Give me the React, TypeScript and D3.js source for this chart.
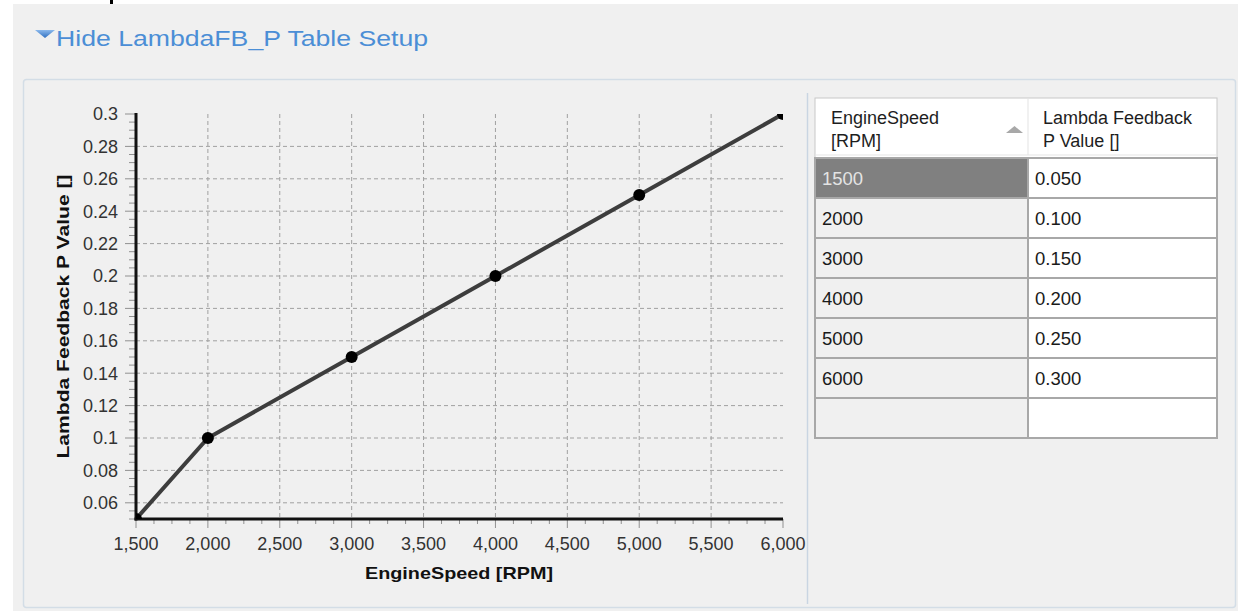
import React from "react";
import * as d3 from "d3";

const engineSpeed = [1500, 2000, 3000, 4000, 5000, 6000];
const pValue = [0.05, 0.1, 0.15, 0.2, 0.25, 0.3];
const pValueText = ["0.050", "0.100", "0.150", "0.200", "0.250", "0.300"];
const xTickValues = [1500, 2000, 2500, 3000, 3500, 4000, 4500, 5000, 5500, 6000];
const yTickValues = [0.06, 0.08, 0.1, 0.12, 0.14, 0.16, 0.18, 0.2, 0.22, 0.24, 0.26, 0.28, 0.3];
const xTitle = "EngineSpeed [RPM]";
const yTitle = "Lambda Feedback P Value []";
const heading = "Hide LambdaFB_P Table Setup";
const colHeaders = [["EngineSpeed", "[RPM]"], ["Lambda Feedback", "P Value []"]];

const FONT = "'Liberation Sans', Arial, sans-serif";

export default function App() {
  const x = d3.scaleLinear().domain([1500, 6000]).range([136, 783]);
  const y = d3.scaleLinear().domain([0.05, 0.3]).range([519, 114]);
  const minorX = d3.range(1500, 6000.1, 125).filter((v) => v % 500 !== 0);
  const minorY = d3.range(0, 51).map((i) => 0.05 + i * 0.005).filter((v) => v <= 0.3001 && Math.abs(Math.round(v * 50) - v * 50) > 1e-6);
  const pts = engineSpeed.map((s, i) => [s, pValue[i]] as [number, number]);
  const line = d3.line<[number, number]>().x((d) => x(d[0])).y((d) => y(d[1]));
  const fmtX = d3.format(",");
  const fmtY = (v: number) => String(+v.toFixed(2));

  const tLeft = 815, tMid = 1028, tRight = 1217, headTop = 98, rowTop = 158, rowH = 40;
  const nRows = engineSpeed.length + 1;

  return (
    <svg width={1238} height={611} style={{ position: "absolute", left: 0, top: 0 }} fontFamily={FONT}>
      <defs>
        <clipPath id="plotClip">
          <rect x={136} y={114} width={647} height={405} />
        </clipPath>
        <linearGradient id="triGrad" x1="0" y1="0" x2="0" y2="1">
          <stop offset="0" stopColor="#8ab8ec" />
          <stop offset="1" stopColor="#2f6fc0" />
        </linearGradient>
      </defs>
      <rect x={0} y={0} width={1238} height={611} fill="#ffffff" />
      <rect x={13} y={4} width={1225} height={607} fill="#f0f0f0" />
      <rect x={110} y={0} width={3} height={4} fill="#000" />

      {/* heading */}
      <path d="M35,30 L55,30 L45,38 Z" fill="url(#triGrad)" />
      <text x={56} y={46} fontSize={22.5} fill="#4b8ed6" textLength={372} lengthAdjust="spacingAndGlyphs">{heading}</text>

      {/* panel */}
      <rect x={23.5} y={79.5} width={1212} height={528} rx={3} fill="#f0f0f0" stroke="#d3dde6" strokeWidth={1.5} />
      <line x1={807.5} x2={807.5} y1={93} y2={604} stroke="#c9d5e2" strokeWidth={1.5} />

      {/* grid */}
      {xTickValues.filter((v) => v > 1500 && v < 6000).map((v) => (
        <line key={"gx" + v} x1={x(v)} x2={x(v)} y1={114} y2={519} stroke="#a0a0a0" strokeWidth={1} strokeDasharray="4,3" />
      ))}
      {yTickValues.filter((v) => v < 0.299).map((v) => (
        <line key={"gy" + v} x1={136} x2={783} y1={y(v)} y2={y(v)} stroke="#a0a0a0" strokeWidth={1} strokeDasharray="4,3" />
      ))}

      {/* ticks */}
      {yTickValues.map((v) => (
        <g key={"ty" + v}>
          <line x1={125} x2={136} y1={y(v)} y2={y(v)} stroke="#909090" strokeWidth={1} />
          <text x={118} y={y(v)} dy="0.35em" textAnchor="end" fontSize={18} fill="#333">{fmtY(v)}</text>
        </g>
      ))}
      {minorY.map((v, i) => (
        <line key={"my" + i} x1={129} x2={136} y1={y(v)} y2={y(v)} stroke="#909090" strokeWidth={1} />
      ))}
      {xTickValues.map((v) => (
        <g key={"tx" + v}>
          <line x1={x(v)} x2={x(v)} y1={519} y2={528} stroke="#909090" strokeWidth={1} />
          <text x={x(v)} y={550} textAnchor="middle" fontSize={18} fill="#333">{fmtX(v)}</text>
        </g>
      ))}
      {minorX.map((v) => (
        <line key={"mx" + v} x1={x(v)} x2={x(v)} y1={519} y2={524} stroke="#909090" strokeWidth={1} />
      ))}

      {/* axes */}
      <line x1={136} x2={136} y1={113} y2={520.5} stroke="#111" strokeWidth={3} />
      <line x1={134.5} x2={783} y1={519} y2={519} stroke="#111" strokeWidth={3} />

      {/* series */}
      <g clipPath="url(#plotClip)">
        <path d={line(pts) || ""} fill="none" stroke="#3d3d3d" strokeWidth={4} />
        {pts.map((d, i) => (
          <circle key={"c" + i} cx={x(d[0])} cy={y(d[1])} r={6} fill="#000" />
        ))}
      </g>

      {/* axis titles */}
      <text x={459} y={579} textAnchor="middle" fontSize={17} fontWeight="bold" fill="#111" textLength={188} lengthAdjust="spacingAndGlyphs">{xTitle}</text>
      <text transform="translate(69,316.5) rotate(-90)" textAnchor="middle" fontSize={17} fontWeight="bold" fill="#111" textLength={284} lengthAdjust="spacingAndGlyphs">{yTitle}</text>

      {/* table */}
      <rect x={tLeft} y={headTop} width={tRight - tLeft} height={rowTop - headTop} fill="#ffffff" stroke="#c8c8c8" strokeWidth={1} />
      <line x1={tMid} x2={tMid} y1={headTop} y2={rowTop - 3} stroke="#e3e3e3" strokeWidth={1} />
      <line x1={tLeft} x2={tRight} y1={rowTop - 3} y2={rowTop - 3} stroke="#e5e5e5" strokeWidth={1} />
      {colHeaders.map((lines, ci) => (
        <g key={"h" + ci}>
          {lines.map((t, li) => (
            <text key={li} x={ci === 0 ? 831 : 1043} y={124 + li * 23} fontSize={18} fill="#1e1e1e">{t}</text>
          ))}
        </g>
      ))}
      <path d="M1006,133 L1023,133 L1014.5,126 Z" fill="#a8a8a8" />

      {d3.range(nRows).map((r) => {
        const top = rowTop + r * rowH;
        const has = r < engineSpeed.length;
        const sel = r === 0;
        return (
          <g key={"r" + r}>
            <rect x={tLeft} y={top} width={tMid - tLeft} height={rowH} fill={sel ? "#808080" : "#f0f0f0"} />
            <rect x={tMid} y={top} width={tRight - tMid} height={rowH} fill="#ffffff" />
            {has && (
              <>
                <text x={822} y={top + 27} fontSize={18.5} fill={sel ? "#e4e4e4" : "#1a1a1a"}>{String(engineSpeed[r])}</text>
                <text x={1035} y={top + 27} fontSize={18.5} fill="#1a1a1a">{pValueText[r]}</text>
              </>
            )}
          </g>
        );
      })}
      {d3.range(nRows + 1).map((r) => (
        <line key={"hl" + r} x1={tLeft} x2={tRight} y1={rowTop + r * rowH} y2={rowTop + r * rowH} stroke="#a8a8a8" strokeWidth={2} />
      ))}
      {[tLeft, tMid, tRight].map((vx) => (
        <line key={"vl" + vx} x1={vx} x2={vx} y1={rowTop - 1} y2={rowTop + nRows * rowH + 1} stroke="#a8a8a8" strokeWidth={2} />
      ))}
    </svg>
  );
}
